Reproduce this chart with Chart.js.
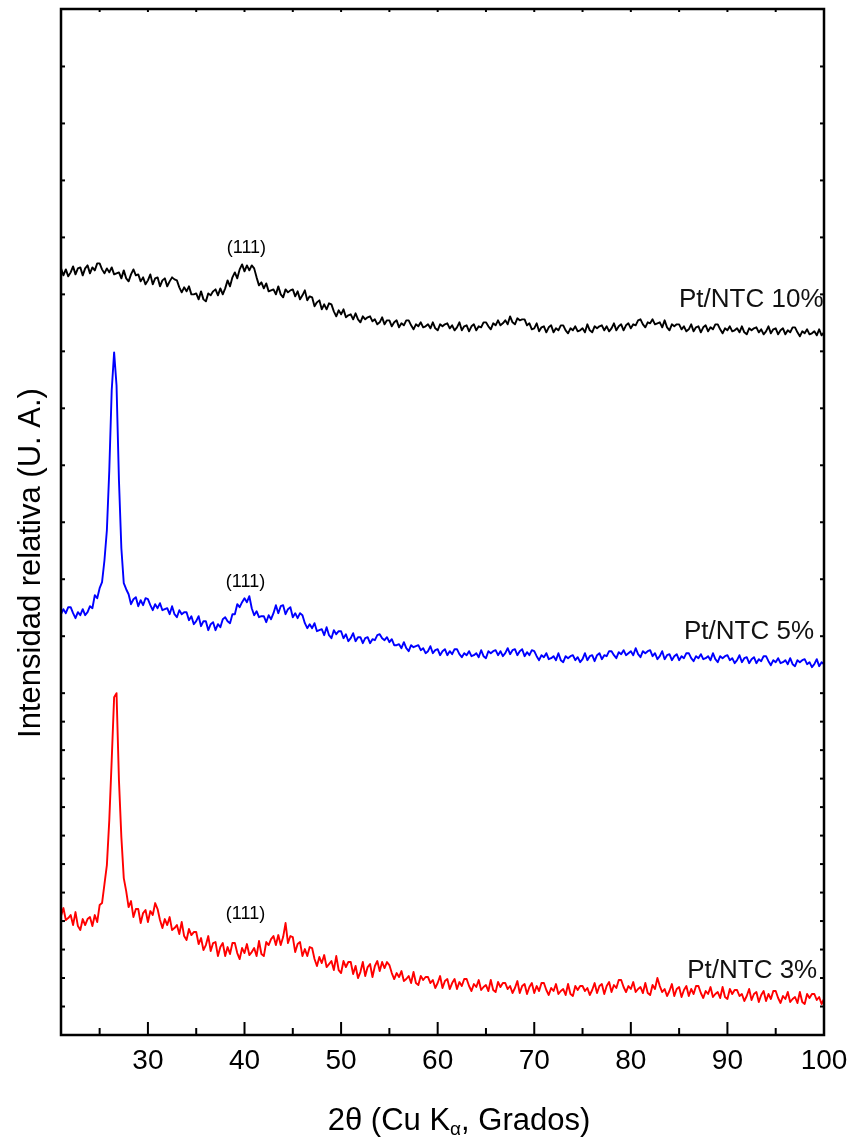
<!DOCTYPE html>
<html><head><meta charset="utf-8">
<script src="https://cdn.jsdelivr.net/npm/chart.js@4.4.0/dist/chart.umd.min.js"></script>
<style>html,body{margin:0;padding:0;background:#fff}canvas{display:block}</style>
</head><body>
<canvas id="c" width="849" height="1137"></canvas>
<script>
// 2θ sampling (degrees)
const twoTheta = [
21,21.25,21.5,21.75,22,22.25,22.5,22.75,23,23.25,23.5,23.75,24,24.25,24.5,24.75,25,25.25,25.5,25.75,
26,26.25,26.5,26.75,27,27.25,27.5,27.75,28,28.25,28.5,28.75,29,29.25,29.5,29.75,30,30.25,30.5,30.75,
31,31.25,31.5,31.75,32,32.25,32.5,32.75,33,33.25,33.5,33.75,34,34.25,34.5,34.75,35,35.25,35.5,35.75,
36,36.25,36.5,36.75,37,37.25,37.5,37.75,38,38.25,38.5,38.75,39,39.25,39.5,39.75,40,40.25,40.5,40.75,
41,41.25,41.5,41.75,42,42.25,42.5,42.75,43,43.25,43.5,43.75,44,44.25,44.5,44.75,45,45.25,45.5,45.75,
46,46.25,46.5,46.75,47,47.25,47.5,47.75,48,48.25,48.5,48.75,49,49.25,49.5,49.75,50,50.25,50.5,50.75,
51,51.25,51.5,51.75,52,52.25,52.5,52.75,53,53.25,53.5,53.75,54,54.25,54.5,54.75,55,55.25,55.5,55.75,
56,56.25,56.5,56.75,57,57.25,57.5,57.75,58,58.25,58.5,58.75,59,59.25,59.5,59.75,60,60.25,60.5,60.75,
61,61.25,61.5,61.75,62,62.25,62.5,62.75,63,63.25,63.5,63.75,64,64.25,64.5,64.75,65,65.25,65.5,65.75,
66,66.25,66.5,66.75,67,67.25,67.5,67.75,68,68.25,68.5,68.75,69,69.25,69.5,69.75,70,70.25,70.5,70.75,
71,71.25,71.5,71.75,72,72.25,72.5,72.75,73,73.25,73.5,73.75,74,74.25,74.5,74.75,75,75.25,75.5,75.75,
76,76.25,76.5,76.75,77,77.25,77.5,77.75,78,78.25,78.5,78.75,79,79.25,79.5,79.75,80,80.25,80.5,80.75,
81,81.25,81.5,81.75,82,82.25,82.5,82.75,83,83.25,83.5,83.75,84,84.25,84.5,84.75,85,85.25,85.5,85.75,
86,86.25,86.5,86.75,87,87.25,87.5,87.75,88,88.25,88.5,88.75,89,89.25,89.5,89.75,90,90.25,90.5,90.75,
91,91.25,91.5,91.75,92,92.25,92.5,92.75,93,93.25,93.5,93.75,94,94.25,94.5,94.75,95,95.25,95.5,95.75,
96,96.25,96.5,96.75,97,97.25,97.5,97.75,98,98.25,98.5,98.75,99,99.25,99.5,99.75,100
];

// Relative intensity (a.u., stacked) — Pt/NTC 10%
const pt10 = [
767,760,766,759, 763,769,761,767, 768,760,767,770, 762,768,765,772, 772,766,762,767,
763,768,761,762, 763,757,765,757, 754,761,766,760, 761,754,758,751, 755,761,751,757,
758,749,755,757, 749,754,758,756, 755,748,743,748, 744,749,741,741, 742,736,744,736,
734,742,740,744, 746,740,747,741, 747,755,749,758, 763,757,766,771, 764,770,765,770,
767,758,750,753, 747,752,744,745, 746,741,749,741, 738,746,743,745, 746,739,744,736,
740,745,735,739, 738,729,733,735, 726,731,726,732, 731,724,719,725, 721,726,718,720,
721,716,722,716, 713,719,716,718, 719,714,716,711, 713,718,711,715, 715,709,713,715,
708,712,710,715, 715,710,706,711, 709,713,708,709, 711,707,713,707, 705,711,709,711,
712,707,710,705, 708,713,705,709, 710,704,709,711, 705,709,708,713, 713,709,706,712,
710,715,710,712, 715,711,719,713, 711,717,715,716, 716,710,712,706, 707,712,704,708,
709,703,708,710, 703,707,705,710, 710,705,702,707, 705,709,704,705, 707,703,711,705,
703,709,707,709, 710,705,709,704, 707,712,705,709, 711,705,710,712, 707,711,710,715,
716,711,708,713, 712,716,711,712, 713,708,715,708, 705,711,709,711, 711,706,709,704,
706,711,704,708, 709,703,708,710, 704,708,706,711, 711,706,702,707, 705,709,704,705,
707,703,709,703, 701,707,705,707, 708,703,706,701, 704,709,702,706, 707,701,705,707,
701,705,703,708, 708,703,699,704, 702,706,701,702, 704,700,706,700, 703
];

// Pt/NTC 5%
const pt5 = [
421,426,422,428, 428,422,417,423, 420,426,420,423, 429,427,440,437, 447,453,475,505,
565,645,683,650, 555,487,452,446, 441,431,436,438, 429,435,430,437, 436,430,425,431,
427,432,425,426, 427,421,429,421, 418,425,421,423, 423,415,419,411, 414,419,409,414,
414,405,411,413, 405,411,408,416, 418,414,412,421, 421,431,428,433, 437,433,439,427,
420,424,418,419, 419,413,420,416, 422,430,422,429, 430,421,426,428, 418,422,417,422,
420,412,407,411, 407,412,404,405, 406,400,408,400, 397,405,401,404, 404,397,401,394,
397,402,394,398, 398,392,397,398, 392,396,395,400, 401,397,395,398, 393,396,390,390,
391,387,393,387, 384,390,388,389, 390,385,387,382, 384,389,382,385, 386,380,384,386,
380,384,381,386, 386,381,378,382, 380,384,379,380, 382,378,385,379, 377,384,382,384,
385,380,384,379, 382,387,381,385, 386,380,384,386, 379,383,380,385, 384,379,375,380,
378,382,376,377, 379,375,382,375, 373,379,377,379, 380,375,378,373, 376,382,375,379,
380,374,380,382, 376,380,379,384, 384,380,377,383, 381,385,380,382, 384,380,387,381,
378,384,382,384, 385,379,382,376, 379,384,376,380, 381,375,379,381, 375,379,377,382,
382,377,374,379, 377,381,376,377, 379,375,382,376, 373,379,377,379, 380,375,377,372,
375,380,373,377, 378,372,376,378, 372,376,374,379, 379,374,370,375, 373,377,372,373,
375,371,377,371, 369,375,373,375, 376,371,373,368, 371,376,369,373, 371
];

// Pt/NTC 3%
const pt3 = [
119,127,115,117, 120,110,123,109, 105,116,110,116, 118,109,120,113, 130,132,151,170,
215,275,338,342, 255,198,157,144, 128,134,118,126, 126,112,122,125, 113,124,120,132,
126,115,107,116, 110,118,105,107, 110,101,113,99, 95,106,100,103, 103,91,97,85,
90,99,84,92, 93,79,88,92, 79,88,81,92, 92,82,76,87, 82,91,80,83,
87,79,94,81, 79,93,90,96, 99,90,100,90, 98,112,92,99, 98,83,91,93,
79,86,79,88, 87,76,69,78, 72,80,68,71, 74,65,79,65, 62,74,68,73,
73,61,69,57, 63,73,59,68, 71,58,69,74, 64,73,67,73, 70,62,56,62,
58,64,54,56, 59,52,63,52, 50,59,55,58, 58,52,55,47, 52,59,47,54,
56,46,52,56, 46,53,49,56, 56,49,44,51, 48,55,45,48, 50,44,55,45,
43,53,48,52, 52,46,49,42, 47,54,42,49, 51,41,48,52, 42,49,44,52,
52,45,40,47, 44,51,41,44, 46,40,51,41, 39,49,45,49, 49,44,47,40,
45,52,42,49, 51,41,49,53, 43,50,47,55, 55,48,43,49, 46,53,43,46,
48,42,52,42, 40,50,46,57, 49,43,46,39, 44,51,39,46, 48,38,45,49,
39,46,41,49, 49,42,37,44, 41,48,38,41, 43,37,48,38, 36,46,41,45,
45,39,41,34, 39,46,35,41, 43,33,40,44, 34,41,36,44, 44,37,32,39,
36,43,33,36, 38,32,43,33, 31,41,37,41, 41,35,38,31, 36
];

const xTickLabels = [30,40,50,60,70,80,90,100];
const xMinorTicks = [25,35,45,55,65,75,85,95];
const xTopTicks = [25,30,35,40,45,50,55,60,65,70,75,80,85,90,95];
const yTicks = [28.5,57,85.5,114,142.5,171,199.5,228,256.5,285,313.5,342,399,456,513,570,627,684,741,798,855,912,969];
const yRange = [0, 1026.5];
const xRange = [21, 100];

const seriesNames = ['Pt/NTC 10%','Pt/NTC 5%','Pt/NTC 3%'];
const seriesColors = ['#000000','#0000ff','#ff0000'];
const seriesData = [pt10, pt5, pt3];

// annotation anchors in data coordinates
const peakNotes = [
  {text:'(111)', x:40.2, y:787},
  {text:'(111)', x:40.1, y:453},
  {text:'(111)', x:40.1, y:121}
];
const nameNotes = [
  {text:seriesNames[0], x:99.95, y:736},
  {text:seriesNames[1], x:98.97, y:403},
  {text:seriesNames[2], x:99.3, y:64}
];

const FONT = '"Liberation Sans", Arial, sans-serif';

const decor = {
  id:'decor',
  afterDatasetsDraw(chart){
    const {ctx, scales:{x,y}} = chart;
    ctx.save();
    ctx.fillStyle = '#000';
    ctx.textBaseline = 'middle';
    ctx.font = '18px ' + FONT;
    ctx.textAlign = 'center';
    peakNotes.forEach(n => ctx.fillText(n.text, x.getPixelForValue(n.x), y.getPixelForValue(n.y)));
    ctx.font = '26px ' + FONT;
    ctx.textAlign = 'right';
    ctx.fillStyle = '#111';
    nameNotes.forEach(n => ctx.fillText(n.text, x.getPixelForValue(n.x), y.getPixelForValue(n.y)));
    ctx.restore();
  },
  afterDraw(chart){
    const {ctx, chartArea:{left,right,top,bottom}, scales:{x,y}} = chart;
    ctx.save();
    ctx.strokeStyle = '#000';
    ctx.lineWidth = 2;
    const line = (x1,y1,x2,y2) => { ctx.beginPath(); ctx.moveTo(x1,y1); ctx.lineTo(x2,y2); ctx.stroke(); };
    xTickLabels.forEach(v => { const p = x.getPixelForValue(v); line(p,bottom,p,bottom-13); });
    xMinorTicks.forEach(v => { const p = x.getPixelForValue(v); line(p,bottom,p,bottom-7); });
    xTopTicks.forEach(v => { const p = x.getPixelForValue(v); line(p,top,p,top+3); });
    yTicks.forEach(v => { const p = y.getPixelForValue(v); line(left,p,left+4,p); line(right,p,right-4,p); });
    ctx.lineWidth = 2.5;
    ctx.strokeRect(left, top, right-left, bottom-top);

    // x title with subscript alpha
    ctx.fillStyle = '#000';
    ctx.textBaseline = 'alphabetic';
    ctx.textAlign = 'left';
    const big = '31px ' + FONT, small = '19px ' + FONT;
    const p1 = '2θ (Cu K', sub = 'α', p2 = ', Grados)';
    ctx.font = big; const w1 = ctx.measureText(p1).width, w2 = ctx.measureText(p2).width;
    ctx.font = small; const ws = ctx.measureText(sub).width;
    let sx = 459 - (w1+ws+w2)/2; const by = 1130;
    ctx.font = big; ctx.fillText(p1, sx, by); sx += w1;
    ctx.font = small; ctx.fillText(sub, sx, by+5); sx += ws;
    ctx.font = big; ctx.fillText(p2, sx, by);

    // y title
    ctx.translate(40, 563);
    ctx.rotate(-Math.PI/2);
    ctx.textAlign = 'center';
    ctx.font = '31px ' + FONT;
    ctx.fillText('Intensidad relativa (U. A.)', 0, 0);
    ctx.restore();
  }
};

new Chart(document.getElementById('c'), {
  type:'line',
  data:{
    datasets: seriesData.map((arr,i) => ({
      label: seriesNames[i],
      data: twoTheta.map((t,j) => ({x:t, y:arr[j]})),
      borderColor: seriesColors[i],
      borderWidth: 1.9,
      borderJoinStyle: 'round',
      pointRadius: 0,
      tension: 0,
      fill: false
    }))
  },
  options:{
    responsive:false,
    animation:false,
    layout:{padding:{left:61,right:25,top:9,bottom:0}},
    plugins:{legend:{display:false}, tooltip:{enabled:false}},
    scales:{
      x:{
        type:'linear', min:xRange[0], max:xRange[1],
        grid:{display:false, drawTicks:false},
        border:{display:false},
        afterBuildTicks: s => { s.ticks = xTickLabels.map(v => ({value:v})); },
        afterFit: s => { s.height = 102; s.paddingLeft = 0; s.paddingRight = 0; },
        ticks:{color:'#000', font:{family:FONT, size:28}, padding:9, maxRotation:0, autoSkip:false,
               callback: v => String(v)}
      },
      y:{display:false, min:yRange[0], max:yRange[1]}
    }
  },
  plugins:[decor]
});
</script>
</body></html>
